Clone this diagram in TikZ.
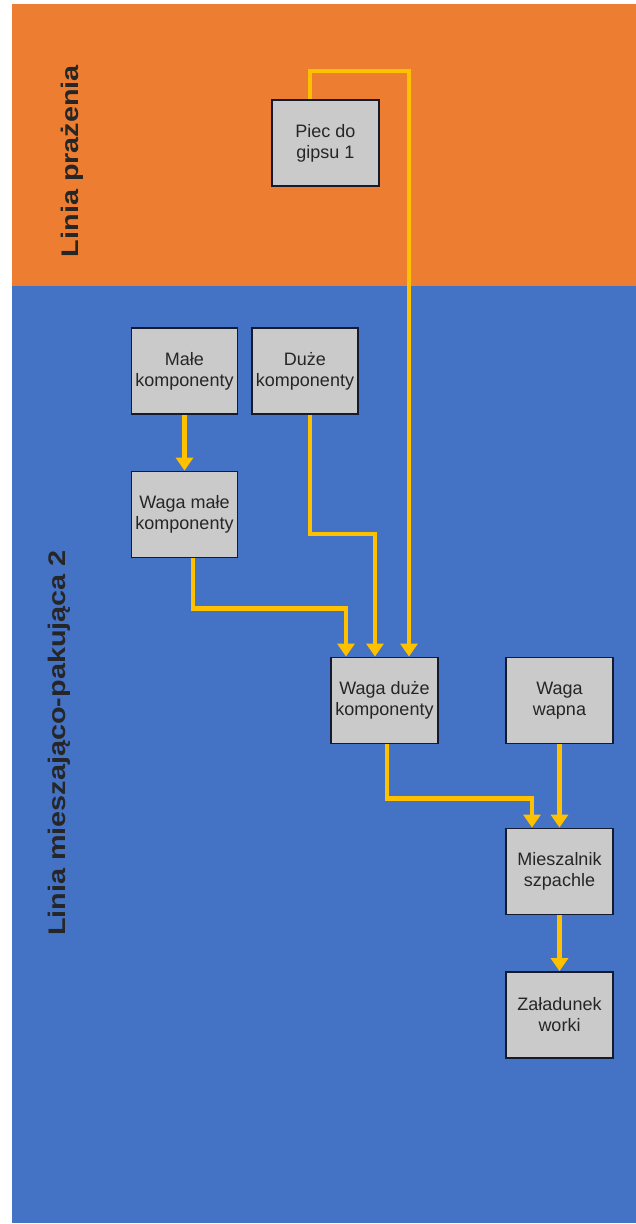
\documentclass[tikz,border=0pt]{standalone}
\usepackage{fontspec}
\setmainfont{Liberation Sans}
\usetikzlibrary{arrows.meta}
\definecolor{laneorange}{HTML}{ED7D31}
\definecolor{laneblue}{HTML}{4472C4}
\definecolor{flowyellow}{HTML}{FFC000}
\definecolor{boxgray}{HTML}{CACACA}
\definecolor{boxline}{HTML}{151A2E}
\definecolor{txt}{HTML}{262626}
\tikzset{
  procbox/.style={draw=boxline, line width=1.8pt, fill=boxgray, minimum width=107pt, minimum height=86pt,
    inner sep=0pt, align=center, text=txt, font=\fontsize{18}{21}\selectfont},
  flow/.style={draw=flowyellow, line width=4.5pt, -{Triangle[width=17pt,length=13pt]}},
  lanelabel/.style={rotate=90, font=\bfseries\fontsize{24}{28}\selectfont, text=black!85, inner sep=0pt}
}
\begin{document}
\begin{tikzpicture}[x=1pt,y=-1pt]
\useasboundingbox (0,0) rectangle (636,1224);
\fill[white] (0,0) rectangle (636,1224);
% lanes
\fill[laneorange] (12,4) rectangle (636,286);
\fill[laneblue] (12,286) rectangle (636,1223);
\node[lanelabel] (lane1) at (72,161) {\scalebox{1.2}[1]{Linia prażenia}};
\node[lanelabel] (lane2) at (59,743) {\scalebox{1.2}[1]{Linia mieszająco-pakująca 2}};
% boxes
\node[procbox] (piec) at (325.5,143) {Piec do\\gipsu 1};
\node[procbox, minimum width=106pt] (male) at (184.5,371) {Małe\\komponenty};
\node[procbox, minimum width=106pt] (duze) at (305,371) {Duże\\komponenty};
\node[procbox, minimum width=106pt] (wagamale) at (184.5,514.5) {Waga małe\\komponenty};
\node[procbox] (wagaduze) at (384.5,700.5) {Waga duże\\komponenty};
\node[procbox] (wapno) at (559.5,700.5) {Waga\\wapna};
\node[procbox] (miesz) at (559.5,871.5) {Mieszalnik\\szpachle};
\node[procbox] (zalad) at (559.5,1015) {Załadunek\\worki};
% flows
\draw[flow] (male.south) -- (wagamale.north);
\draw[flow] ([xshift=8.5pt]wagamale.south) -- ++(0,50) -| ([xshift=-38.5pt]wagaduze.north);
\draw[flow] ([xshift=5pt]duze.south) -- ++(0,119) -| ([xshift=-9.5pt]wagaduze.north);
\draw[flow] ([xshift=-15.5pt]piec.north) -- ++(0,-28) -| ([xshift=24.5pt]wagaduze.north);
\draw[flow] ([xshift=2.5pt]wagaduze.south) -- ++(0,54) -| ([xshift=-27.5pt]miesz.north);
\draw[flow] (wapno.south) -- (miesz.north);
\draw[flow] (miesz.south) -- (zalad.north);
\end{tikzpicture}
\end{document}
